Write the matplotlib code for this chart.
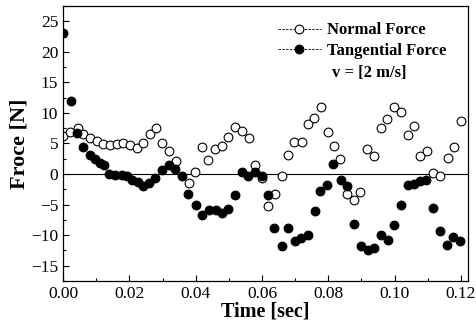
import numpy as np
import matplotlib
matplotlib.use("Agg")
import matplotlib.pyplot as plt
from matplotlib.ticker import MultipleLocator

plt.rcParams["font.family"] = ["Liberation Serif", "DejaVu Serif"]

# ----------------------------
# Data (time in s, force in N)
# ----------------------------
t_normal = [0.0000, 0.0021, 0.0044, 0.0061, 0.0081, 0.0102, 0.0121, 0.0142, 0.0162, 0.0182,
            0.0202, 0.0222, 0.0242, 0.0262, 0.0281, 0.0299, 0.0319, 0.0340, 0.0380, 0.0399,
            0.0418, 0.0438, 0.0458, 0.0478, 0.0498, 0.0519, 0.0541, 0.0561, 0.0579, 0.0599,
            0.0619, 0.0639, 0.0659, 0.0679, 0.0697, 0.0720, 0.0738, 0.0758, 0.0779, 0.0798,
            0.0818, 0.0835, 0.0857, 0.0877, 0.0895, 0.0916, 0.0939, 0.0959, 0.0977, 0.0999,
            0.1019, 0.1039, 0.1057, 0.1076, 0.1099, 0.1116, 0.1137, 0.1160, 0.1180, 0.1200]
f_normal = [6.2, 6.9, 7.6, 6.6, 5.9, 5.4, 4.85, 4.8, 4.9, 5.0,
            4.7, 4.3, 5.1, 6.5, 7.5, 5.1, 3.7, 2.1, -1.45, 0.35,
            4.45, 2.3, 4.1, 4.6, 6.1, 7.7, 7.0, 5.9, 1.5, -0.7,
            -5.3, -3.2, -0.3, 3.1, 5.3, 5.2, 8.2, 9.1, 10.9, 6.8,
            4.6, 2.4, -3.3, -4.2, -3.0, 4.1, 3.0, 7.6, 9.0, 10.9,
            10.2, 6.4, 7.8, 2.9, 3.8, 0.1, -0.3, 2.6, 4.5, 8.7]

t_tang = [0.0000, 0.0024, 0.0041, 0.0059, 0.0081, 0.0096, 0.0112, 0.0125, 0.0140, 0.0157,
          0.0177, 0.0192, 0.0207, 0.0227, 0.0242, 0.0260, 0.0277, 0.0299, 0.0320, 0.0338,
          0.0358, 0.0378, 0.0400, 0.0419, 0.0440, 0.0460, 0.0480, 0.0498, 0.0519, 0.0539,
          0.0559, 0.0579, 0.0599, 0.0619, 0.0637, 0.0659, 0.0679, 0.0699, 0.0718, 0.0738,
          0.0760, 0.0776, 0.0797, 0.0815, 0.0838, 0.0857, 0.0878, 0.0898, 0.0919, 0.0939,
          0.0959, 0.0979, 0.0999, 0.1019, 0.1039, 0.1059, 0.1076, 0.1096, 0.1116, 0.1137,
          0.1157, 0.1177, 0.1197]
f_tang = [23.0, 12.0, 6.65, 4.5, 3.1, 2.4, 1.75, 1.5, 0.0, -0.15,
          -0.1, -0.4, -0.9, -1.25, -1.95, -1.4, -0.7, 0.65, 1.55, 0.9,
          -0.4, -3.25, -5.1, -6.7, -5.8, -5.8, -6.4, -5.7, -3.5, 0.4,
          -0.3, 0.4, -0.3, -3.4, -8.8, -11.8, -8.8, -10.9, -10.5, -9.9,
          -6.0, -2.8, -1.8, 1.6, -0.9, -2.0, -8.2, -11.8, -12.5, -12.1,
          -9.9, -10.8, -8.4, -5.1, -1.8, -1.7, -1.1, -0.9, -5.6, -9.3,
          -11.6, -10.3, -10.9]

x_ticks = [0.00, 0.02, 0.04, 0.06, 0.08, 0.10, 0.12]
y_ticks = [-15, -10, -5, 0, 5, 10, 15, 20, 25]

# ----------------------------
# Plot
# ----------------------------
fig = plt.figure(figsize=(4.76, 3.31), dpi=100)
ax = fig.add_axes([0.1324, 0.151, 0.8506, 0.831])

ax.axhline(0, color="black", linewidth=0.8, zorder=1)

ax.plot(t_normal, f_normal, linestyle="none", marker="o", markersize=6.3,
        markerfacecolor="white", markeredgecolor="black", markeredgewidth=0.8,
        zorder=2)
ax.plot(t_tang, f_tang, linestyle="none", marker="o", markersize=6.3,
        markerfacecolor="black", markeredgecolor="black", markeredgewidth=0.8,
        zorder=3)

ax.set_xlim(0, 0.1221)
ax.set_ylim(-17.5, 27.5)
ax.set_xticks(x_ticks)
ax.set_xticklabels([f"{v:.2f}" for v in x_ticks])
ax.set_yticks(y_ticks)
ax.xaxis.set_minor_locator(MultipleLocator(0.01))
ax.yaxis.set_minor_locator(MultipleLocator(2.5))
ax.tick_params(which="both", direction="in", top=False, right=False,
               labelsize=12.5, width=0.8)
ax.tick_params(which="major", length=4)
ax.tick_params(which="minor", length=2.5)
for s in ax.spines.values():
    s.set_linewidth(0.9)

ax.set_xlabel("Time [sec]", fontsize=14.5, fontweight="bold", labelpad=0)
ax.set_ylabel("Froce [N]", fontsize=16, fontweight="bold", labelpad=1)

# legend
h_n, = ax.plot([], [], linestyle=(0, (3, 1.5)), linewidth=0.6, color="black",
               marker="o", markersize=6.3, markerfacecolor="white",
               markeredgecolor="black", markeredgewidth=0.8)
h_t, = ax.plot([], [], linestyle=(0, (3, 1.5)), linewidth=0.6, color="black",
               marker="o", markersize=6.3, markerfacecolor="black",
               markeredgecolor="black", markeredgewidth=0.8)
leg = ax.legend([h_n, h_t], ["Normal Force", "Tangential Force"],
                loc="upper left", bbox_to_anchor=(0.53, 0.94), frameon=False,
                prop={"size": 12, "weight": "bold"}, handlelength=2.6,
                handletextpad=0.35, labelspacing=0.25, borderpad=0,
                borderaxespad=0)
ax.text(0.664, 0.757, "v = [2 m/s]", transform=ax.transAxes, fontsize=12,
        fontweight="bold", ha="left", va="center")

plt.savefig("out.png", dpi=100)
